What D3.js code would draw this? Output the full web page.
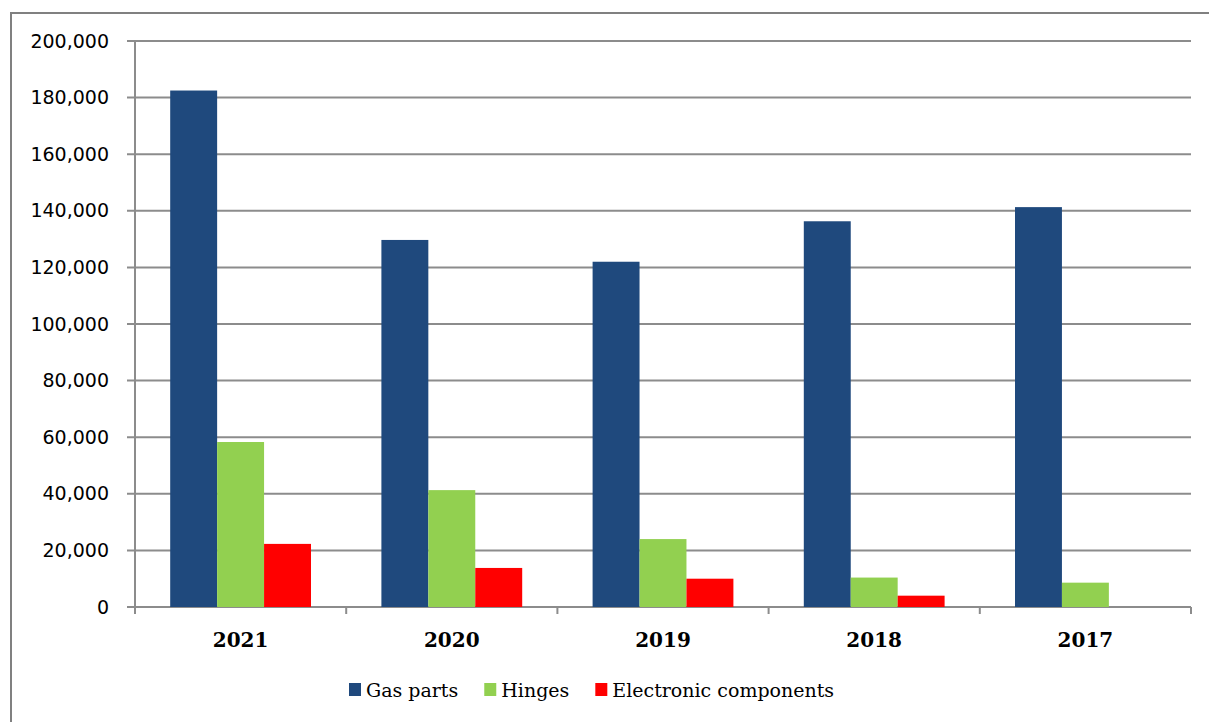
<!DOCTYPE html>
<html>
<head>
<meta charset="utf-8">
<script src="https://cdn.jsdelivr.net/npm/d3@7"></script>
<style>
	body { margin: 0; background: #fff; }
	svg { display: block; }
</style>
</head>
<body>
<script>

//chart data
const years = ['2021', '2020', '2019', '2018', '2017']
const series = ['Gas parts', 'Hinges', 'Electronic components']
const gasParts = [182500, 129700, 122000, 136300, 141300]
const hinges = [58300, 41300, 24000, 10400, 8600]
const electronic = [22300, 13800, 10000, 4000, 0]
const yTicks = [0, 20000, 40000, 60000, 80000, 100000, 120000, 140000, 160000, 180000, 200000]

const colors = ['#1F497D', '#92D050', '#FF0000']
const values = [gasParts, hinges, electronic]

const W = 1209, H = 722
const plotLeft = 135, plotRight = 1191, plotTop = 41, plotBottom = 607

const svg = d3.select('body').append('svg')
	.attr('width', W)
	.attr('height', H)

//outer frame
svg.append('rect')
	.attr('x', 11).attr('y', 13)
	.attr('width', 1220).attr('height', 730)
	.attr('fill', 'none')
	.attr('stroke', '#808080')
	.attr('stroke-width', 2)

const x = d3.scaleBand().domain(years).range([plotLeft, plotRight]).paddingInner(0).paddingOuter(0)
const x1 = d3.scaleBand().domain(series).range([0, x.bandwidth()]).paddingInner(0).paddingOuter(0.75)
const y = d3.scaleLinear().domain([0, 200000]).range([plotBottom, plotTop])

//gridlines
svg.append('g')
	.selectAll('line')
	.data(yTicks)
	.join('line')
	.attr('x1', plotLeft - 8).attr('x2', plotRight)
	.attr('y1', d => y(d)).attr('y2', d => y(d))
	.attr('stroke', '#8c8c8c')
	.attr('stroke-width', 2)

//y axis labels
const yAxis = svg.append('g')
	.attr('transform', 'translate(' + plotLeft + ',0)')
	.call(d3.axisLeft(y).tickValues(yTicks).tickSize(8).tickPadding(18).tickFormat(d3.format(',')))
yAxis.select('.domain').remove()
yAxis.selectAll('.tick line').remove()
yAxis.selectAll('text')
	.attr('font-family', 'DejaVu Sans')
	.attr('font-size', '19px')
	.attr('fill', '#000')

//bars
years.forEach((yr, i) => {
	const g = svg.append('g').attr('transform', 'translate(' + x(yr) + ',0)')
	g.selectAll('rect')
		.data(series.map((s, j) => ({s: s, v: values[j][i], c: colors[j]})))
		.join('rect')
		.attr('x', d => x1(d.s))
		.attr('width', x1.bandwidth())
		.attr('y', d => y(d.v))
		.attr('height', d => y(0) - y(d.v))
		.attr('fill', d => d.c)
})

//axes lines
svg.append('line')
	.attr('x1', plotLeft).attr('x2', plotLeft)
	.attr('y1', plotTop).attr('y2', plotBottom + 7)
	.attr('stroke', '#8c8c8c').attr('stroke-width', 2)

svg.append('g')
	.selectAll('line')
	.data(d3.range(years.length + 1))
	.join('line')
	.attr('x1', i => plotLeft + i * x.bandwidth()).attr('x2', i => plotLeft + i * x.bandwidth())
	.attr('y1', plotBottom).attr('y2', plotBottom + 7)
	.attr('stroke', '#8c8c8c').attr('stroke-width', 2)

//category labels
svg.append('g')
	.selectAll('text')
	.data(years)
	.join('text')
	.attr('x', d => x(d) + x.bandwidth() / 2)
	.attr('y', 647)
	.attr('text-anchor', 'middle')
	.attr('font-family', 'DejaVu Serif')
	.attr('font-weight', 'bold')
	.attr('font-size', '20px')
	.text(d => d)

//legend
const legend = svg.append('g')
let lx = 349
series.forEach((s, j) => {
	legend.append('rect')
		.attr('x', lx).attr('y', 683)
		.attr('width', 12).attr('height', 13)
		.attr('fill', colors[j])
	const t = legend.append('text')
		.attr('x', lx + 17)
		.attr('y', 697)
		.attr('font-family', 'DejaVu Serif')
		.attr('font-size', '19px')
		.text(s)
	lx += 17 + t.node().getComputedTextLength() + 26
})

</script>
</body>
</html>
